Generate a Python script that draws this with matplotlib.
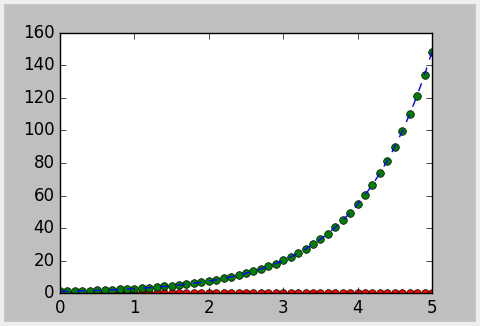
import matplotlib
matplotlib.use("Agg")
import matplotlib.pyplot as plt
from matplotlib.patches import Rectangle

plt.style.use("classic")

t_values = [0.0, 0.1, 0.2, 0.3, 0.4, 0.5, 0.6, 0.7, 0.8, 0.9,
            1.0, 1.1, 1.2, 1.3, 1.4, 1.5, 1.6, 1.7, 1.8, 1.9,
            2.0, 2.1, 2.2, 2.3, 2.4, 2.5, 2.6, 2.7, 2.8, 2.9,
            3.0, 3.1, 3.2, 3.3, 3.4, 3.5, 3.6, 3.7, 3.8, 3.9,
            4.0, 4.1, 4.2, 4.3, 4.4, 4.5, 4.6, 4.7, 4.8, 4.9, 5.0]

growth_values = [1.00, 1.11, 1.22, 1.35, 1.49, 1.65, 1.82, 2.01, 2.23, 2.46,
                 2.72, 3.00, 3.32, 3.67, 4.06, 4.48, 4.95, 5.47, 6.05, 6.69,
                 7.39, 8.17, 9.03, 9.97, 11.02, 12.18, 13.46, 14.88, 16.44, 18.17,
                 20.09, 22.20, 24.53, 27.11, 29.96, 33.12, 36.60, 40.45, 44.70, 49.40,
                 54.60, 60.34, 66.69, 73.70, 81.45, 90.02, 99.48, 109.95, 121.51, 134.29,
                 148.41]

zero_values = [0.0, 0.0, 0.0, 0.0, 0.0, 0.0, 0.0, 0.0, 0.0, 0.0,
               0.0, 0.0, 0.0, 0.0, 0.0, 0.0, 0.0, 0.0, 0.0, 0.0,
               0.0, 0.0, 0.0, 0.0, 0.0, 0.0, 0.0, 0.0, 0.0, 0.0,
               0.0, 0.0, 0.0, 0.0, 0.0, 0.0, 0.0, 0.0, 0.0, 0.0,
               0.0, 0.0, 0.0, 0.0, 0.0, 0.0, 0.0, 0.0, 0.0, 0.0, 0.0]

fig = plt.figure(figsize=(4.8, 3.26), dpi=100)
fig.patch.set_facecolor("#bfbfbf")
ax = fig.add_axes([0.125, 0.101, 0.775, 0.798])

ax.plot(t_values, zero_values, "ro", markersize=5.5, clip_on=True)
ax.plot(t_values, growth_values, "go", markersize=5.5, clip_on=True)
ax.plot(t_values, growth_values, "b--", clip_on=True)

ax.set_xlim(0, 5)
ax.set_ylim(0, 160)

fig.patches.append(Rectangle((0, 0), 1, 1, transform=fig.transFigure,
                             fill=False, edgecolor="#eeeeee", linewidth=6,
                             figure=fig))

fig.savefig("out.png", dpi=100, facecolor=fig.get_facecolor())
